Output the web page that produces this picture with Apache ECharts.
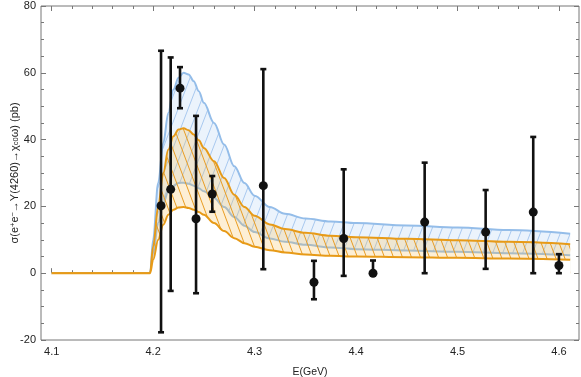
<!DOCTYPE html>
<html><head><meta charset="utf-8">
<script src="https://cdn.jsdelivr.net/npm/echarts@6/dist/echarts.min.js"></script>
<style>html,body{margin:0;padding:0;background:#fff}#c{width:581px;height:377px}</style>
</head><body><div id="c"></div>
<script>
// ---- data ----
const energy      = [4.1, 4.197, 4.2, 4.205, 4.21, 4.215, 4.22, 4.225, 4.23, 4.235, 4.24, 4.245, 4.25, 4.26, 4.27, 4.28, 4.29, 4.3, 4.315, 4.33, 4.35, 4.375, 4.4, 4.45, 4.5, 4.55, 4.611];
const blueUpper   = [0, 0, 10, 27, 39, 48, 55, 58.5, 60, 59.5, 57.5, 54.5, 51, 45, 38.5, 32, 27, 23.2, 19.8, 17.8, 16.4, 15.5, 15, 14.3, 13.7, 12.9, 11.8];
const blueLower   = [0, 0, 6, 15, 21, 24.5, 26.2, 27, 27.1, 26.8, 26.2, 25.4, 24.5, 22.5, 19.8, 16.8, 14.2, 12.3, 10.4, 9.4, 8.5, 7.7, 7.2, 6.8, 6.4, 6.0, 5.4];
const orangeUpper = [0, 0, 8, 20, 30, 37, 41, 43, 43.4, 42.8, 41.5, 39.8, 37.5, 33.5, 28.5, 23.5, 19.8, 17.2, 14.6, 13.2, 12.1, 11.2, 10.8, 10.3, 9.9, 9.4, 8.7];
const orangeLower = [0, 0, 4, 10, 14.5, 17.5, 19, 19.7, 19.8, 19.5, 19, 18.3, 17.5, 15, 12.6, 10.5, 9, 7.9, 6.9, 6.2, 5.6, 5.2, 5, 4.8, 4.6, 4.4, 4.0];

const pointE     = [4.2078, 4.2173, 4.2265, 4.2423, 4.2583, 4.3086, 4.3585, 4.3878, 4.4167, 4.4676, 4.5277, 4.5746, 4.5999];
const pointSigma = [20.2, 25.1, 55.4, 16.3, 23.7, 26.2, -2.7, 10.4, 0.0, 15.3, 12.3, 18.3, 2.3];
const errHigh    = [66.6, 64.6, 61.7, 47.1, 29.1, 61.1, 3.7, 31.1, 3.8, 33.1, 24.9, 40.8, 5.7];
const errLow     = [-17.7, -5.3, 49.4, -6.0, 18.4, 1.2, -7.8, -0.8, -0.6, 0.0, 1.3, 0.0, 0.0];

const xMajorTicks = [4.1, 4.2, 4.3, 4.4, 4.5, 4.6];
const xMinorTicks = [4.12, 4.14, 4.16, 4.18, 4.22, 4.24, 4.26, 4.28, 4.32, 4.34, 4.36, 4.38, 4.42, 4.44, 4.46, 4.48, 4.52, 4.54, 4.56, 4.58];
const xRange = [4.0895, 4.6197];
const yRange = [-20, 80];
const yStep = 20;

// ---- helpers ----
function hatch(fill, stroke, w, h, dir) {
  const c = document.createElement('canvas'); c.width = w; c.height = h;
  const g = c.getContext('2d');
  g.fillStyle = fill; g.fillRect(0, 0, w, h);
  g.strokeStyle = stroke; g.lineWidth = 1;
  for (const dx of [-w, 0, w]) {
    g.beginPath();
    if (dir > 0) { g.moveTo(dx, h); g.lineTo(dx + w, 0); }
    else { g.moveTo(dx, 0); g.lineTo(dx + w, h); }
    g.stroke();
  }
  return { image: c, repeat: 'repeat' };
}
const pair = (xs, ys) => xs.map((x, i) => [x, ys[i]]);

const BLUE = '#94bde9', ORANGE = '#e79a17';
const blueFill = hatch('#ebf3fc', '#a8c9ef', 10, 26, 1);
const orangeFill = hatch('rgba(246,190,80,0.24)', 'rgba(232,152,25,0.95)', 9, 24, -1);

const axisCol = '#777777';
const font = 'Liberation Sans, Arial, sans-serif';

function xAx(pos, ticks, len, labels, extra) {
  return Object.assign({
    type: 'value', position: pos, min: xRange[0], max: xRange[1],
    axisLine: { show: false },
    axisTick: { show: true, inside: true, length: len, customValues: ticks, lineStyle: { color: axisCol } },
    axisLabel: labels ? { show: true, customValues: ticks, color: '#222', fontSize: 11, fontFamily: font, margin: 6,
      formatter: v => v.toFixed(1) } : { show: false },
    splitLine: { show: false }
  }, extra || {});
}
function yAx(pos, labels, extra) {
  return Object.assign({
    type: 'value', position: pos, min: yRange[0], max: yRange[1], interval: yStep,
    axisLine: { show: false },
    axisTick: { show: true, inside: true, length: 5, lineStyle: { color: axisCol } },
    minorTick: { show: true, splitNumber: 4, length: 3, lineStyle: { color: axisCol } },
    axisLabel: labels ? { show: true, color: '#222', fontSize: 11, fontFamily: font, margin: 5 } : { show: false },
    splitLine: { show: false }
  }, extra || {});
}
const curve = (ys, color, area, origin, z) => ({
  type: 'line', data: pair(energy, ys), symbol: 'none', smooth: 0.35, smoothMonotone: 'x',
  lineStyle: { color: color, width: 2 },
  areaStyle: { color: area, opacity: 1, origin: origin }, z: z
});

const chart = echarts.init(document.getElementById('c'), null, { renderer: 'canvas' });
chart.setOption({
  animation: false,
  backgroundColor: '#fff',
  grid: { left: 41, right: 2, top: 6, bottom: 37, outerBoundsMode: 'none', containLabel: false,
    show: true, borderColor: axisCol, borderWidth: 1, backgroundColor: 'transparent' },
  xAxis: [
    xAx('bottom', xMajorTicks, 5, true, { name: 'E(GeV)', nameLocation: 'middle', nameGap: 27, nameMoveOverlap: false,
      nameTextStyle: { color: '#222', fontSize: 10.5, fontFamily: font } }),
    xAx('bottom', xMinorTicks, 3, false),
    xAx('top', xMajorTicks, 5, false),
    xAx('top', xMinorTicks, 3, false)
  ],
  yAxis: [
    yAx('left', true, {
      name: '{t|σ(e}{s|+}{t|e}{s|−}{t|→Y(4260)→χ}{b|c0}{t|ω) (pb)}',
      nameLocation: 'middle', nameGap: 21, nameMoveOverlap: false,
      nameTextStyle: { color: '#222', fontFamily: font, rich: {
        t: { fontSize: 11, fontFamily: font, color: '#222' },
        s: { fontSize: 7.5, fontFamily: font, color: '#222', verticalAlign: 'top' },
        b: { fontSize: 7.5, fontFamily: font, color: '#222', verticalAlign: 'bottom' }
      } }
    }),
    yAx('right', false)
  ],
  series: [
    curve(blueUpper, BLUE, blueFill, 0, 2),
    curve(blueLower, BLUE, '#ffffff', -4, 3),
    curve(orangeUpper, ORANGE, orangeFill, 0, 4),
    curve(orangeLower, ORANGE, '#ffffff', -4, 5),
    {
      type: 'custom', z: 6,
      data: pointE.map((x, i) => [x, errLow[i], errHigh[i]]),
      encode: { x: 0, y: [1, 2] },
      renderItem: function (params, api) {
        const x = api.value(0), lo = api.value(1), hi = api.value(2);
        const a = api.coord([x, lo]), b = api.coord([x, hi]);
        const hw = 3;
        const st = { stroke: '#111', lineWidth: 2.6 };
        return { type: 'group', children: [
          { type: 'line', shape: { x1: a[0], y1: a[1], x2: b[0], y2: b[1] }, style: st },
          { type: 'line', shape: { x1: a[0] - hw, y1: a[1], x2: a[0] + hw, y2: a[1] }, style: st },
          { type: 'line', shape: { x1: b[0] - hw, y1: b[1], x2: b[0] + hw, y2: b[1] }, style: st }
        ] };
      }
    },
    { type: 'scatter', data: pair(pointE, pointSigma), symbol: 'circle', symbolSize: 9,
      itemStyle: { color: '#111', opacity: 1 }, z: 7 }
  ]
});
</script>
</body></html>
